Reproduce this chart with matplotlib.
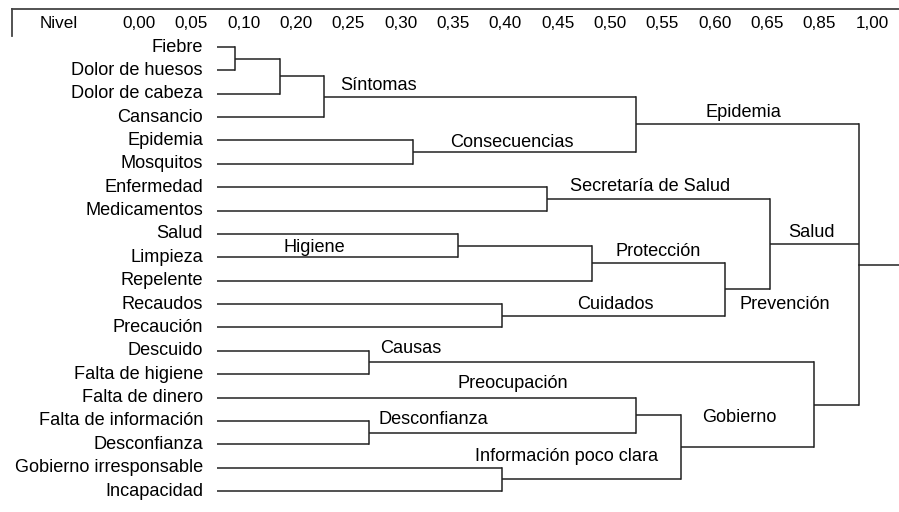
import matplotlib
matplotlib.use("Agg")
import matplotlib.pyplot as plt
from matplotlib.lines import Line2D

plt.rcParams['font.family'] = ['Liberation Sans', 'DejaVu Sans']

# leaves, top to bottom
leaves = ["Fiebre", "Dolor de huesos", "Dolor de cabeza", "Cansancio",
          "Epidemia", "Mosquitos", "Enfermedad", "Medicamentos",
          "Salud", "Limpieza", "Repelente", "Recaudos", "Precaución",
          "Descuido", "Falta de higiene", "Falta de dinero",
          "Falta de información", "Desconfianza",
          "Gobierno irresponsable", "Incapacidad"]

# levels shown in the header (one column per merge step)
levels = [0.00, 0.05, 0.10, 0.20, 0.25, 0.30, 0.35, 0.40, 0.45,
          0.50, 0.55, 0.60, 0.65, 0.85, 1.00]

# merges: (children, level, name) ; ints = leaves, "mN" = earlier merge
merges = [
    ([0, 1], 0.00, ""),
    (["m0", 2], 0.05, ""),
    (["m1", 3], 0.10, "Síntomas"),
    ([4, 5], 0.25, "Consecuencias"),
    (["m2", "m3"], 0.50, "Epidemia"),
    ([6, 7], 0.40, "Secretaría de Salud"),
    ([8, 9], 0.30, "Higiene"),
    (["m6", 10], 0.45, "Protección"),
    ([11, 12], 0.35, "Cuidados"),
    (["m7", "m8"], 0.60, "Prevención"),
    (["m5", "m9"], 0.65, "Salud"),
    ([13, 14], 0.20, "Causas"),
    ([16, 17], 0.20, "Desconfianza"),
    ([15, "m12"], 0.50, "Preocupación"),
    ([18, 19], 0.35, ""),
    (["m13", "m14"], 0.55, "Información poco clara"),
    (["m11", "m15"], 0.85, "Gobierno"),
    (["m4", "m10", "m16"], 1.00, ""),
]

# where each group name sits (level step, row)
label_pos = {
    "Síntomas": (2.36, 1.63), "Consecuencias": (4.83, 4.07),
    "Epidemia": (10.55, 2.82), "Secretaría de Salud": (7.52, 5.99),
    "Salud": (12.41, 7.92), "Higiene": (1.08, 8.56),
    "Protección": (8.53, 8.73), "Cuidados": (7.67, 11.0),
    "Prevención": (11.33, 11.0), "Causas": (3.26, 12.92),
    "Desconfianza": (3.21, 15.96), "Preocupación": (4.99, 14.38),
    "Gobierno": (10.48, 15.87), "Información poco clara": (5.39, 17.54),
}

W, H = 899, 512
fig = plt.figure(figsize=(W / 100, H / 100), dpi=100)
ax = fig.add_axes([0, 0, 1, 1])
step = 44.57
row = 23.37
ax.set_xlim(-235 / step, (W - 235) / step)
ax.set_ylim((H - 47) / row, -47 / row)
ax.axis('off')

lc = '#222222'
lw = 1.1
fs = 13.1
leaf_start = -0.4

nodes = {}
for i, name in enumerate(leaves):
    nodes[i] = (leaf_start, i)
    ax.text(-0.72, i, name, ha='right', va='center', fontsize=fs)

for k, (children, lev, name) in enumerate(merges):
    x = levels.index(lev)
    ys = []
    for c in children:
        cx, cy = nodes[c]
        ax.plot([cx, x], [cy, cy], color=lc, lw=lw, solid_capstyle='butt')
        ys.append(cy)
    ax.plot([x, x], [min(ys), max(ys)], color=lc, lw=lw, solid_capstyle='projecting')
    nodes["m%d" % k] = (x, (min(ys) + max(ys)) / 2)
    if name:
        lx, ly = label_pos[name]
        ax.text(lx, ly, name, ha='left', va='center', fontsize=fs)

# root stub to the right edge
rx, ry = nodes["m%d" % (len(merges) - 1)]
ax.plot([rx, ax.get_xlim()[1]], [ry, ry], color=lc, lw=lw)

# header row
fig.add_artist(Line2D([12 / W, 1], [1 - 9 / H, 1 - 9 / H], color='#444444', lw=1.3,
                      transform=fig.transFigure))
fig.add_artist(Line2D([12 / W, 12 / W], [1 - 9 / H, 1 - 36 / H], color='#444444', lw=1.3,
                      transform=fig.transFigure))
fig.text(59 / W, 1 - 23 / H, "Nivel", ha='center', va='center', fontsize=12.3)
for k, lev in enumerate(levels):
    fig.text((139 + k * 52.35) / W, 1 - 23 / H, ("%.2f" % lev).replace('.', ','),
             ha='center', va='center', fontsize=12.3)

fig.savefig("out.png", dpi=100, facecolor='white')
